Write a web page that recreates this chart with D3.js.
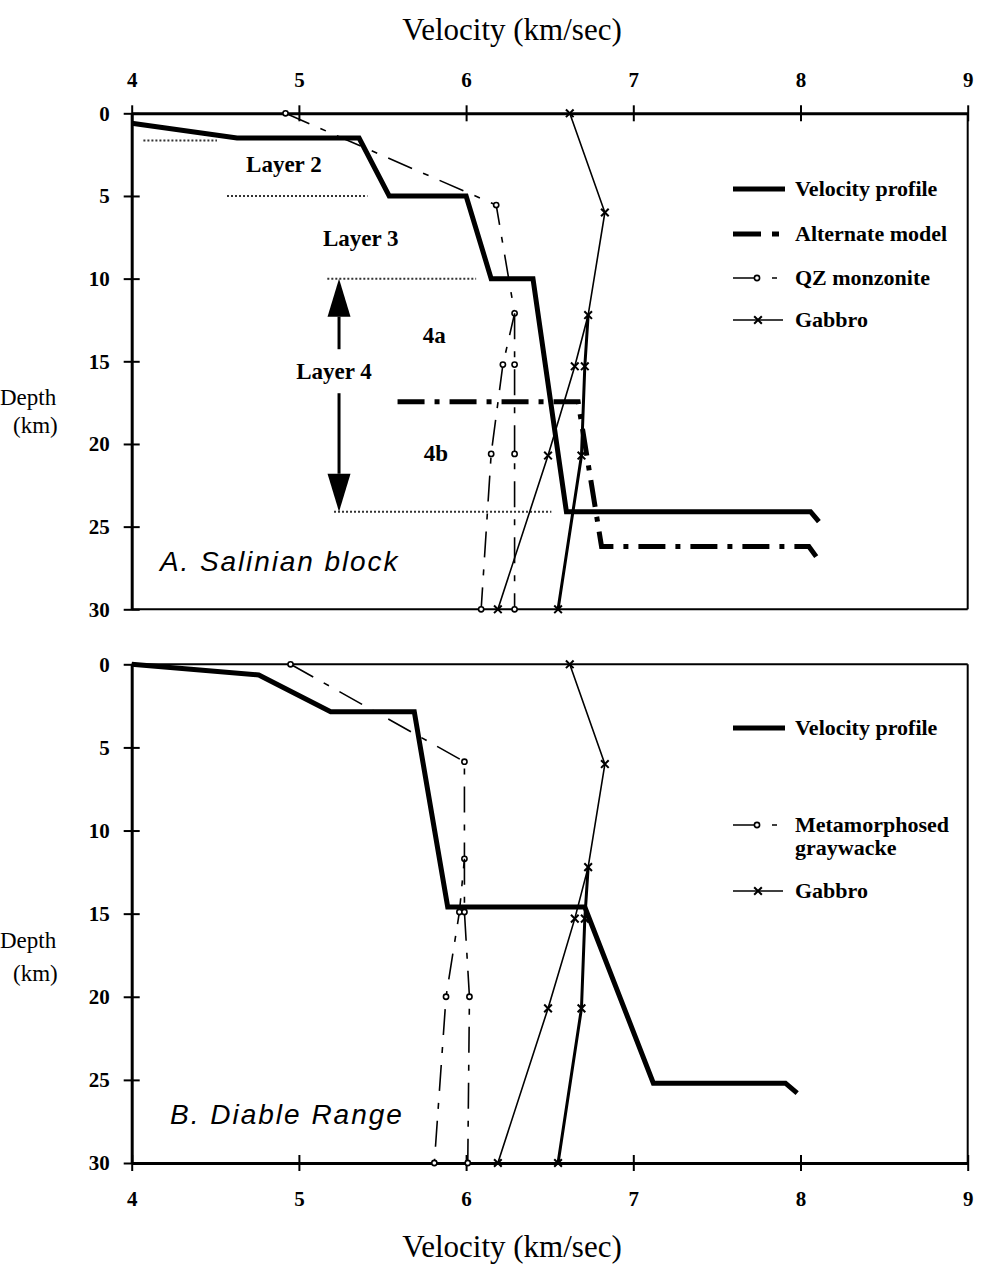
<!DOCTYPE html>
<html>
<head>
<meta charset="utf-8">
<script src="https://cdn.jsdelivr.net/npm/d3@7"></script>
<style>
  body { margin: 0; background: #fff; }
  svg { display: block; }
</style>
</head>
<body>
<svg id="chart" width="991" height="1264"></svg>
<script>
// ---- Data -------------------------------------------------------------
const velocityTicks = [4, 5, 6, 7, 8, 9];
const depthTicks = [0, 5, 10, 15, 20, 25, 30];

// A. Salinian block  [velocity km/s, depth km]
const salinianProfile = [[4.0, 0.6], [4.63, 1.5], [5.36, 1.5], [5.54, 5.0], [6.0, 5.0],
  [6.15, 10], [6.4, 10], [6.6, 24.1], [8.06, 24.1], [8.11, 24.7]];
const salinianAlternate = [[5.59, 17.45], [6.67, 17.45], [6.81, 26.2], [8.05, 26.2], [8.1, 26.9]];
const qzMonzoniteLow = [[4.92, 0], [6.18, 5.55], [6.29, 12.1], [6.22, 15.2], [6.15, 20.6], [6.09, 30]];
const qzMonzoniteHigh = [[6.29, 12.1], [6.29, 15.2], [6.29, 20.6], [6.29, 30]];

// Gabbro laboratory curves (shared by both panels)
const gabbroLow = [[6.62, 0], [6.83, 6.0], [6.73, 12.2], [6.65, 15.3], [6.49, 20.7], [6.19, 30]];
const gabbroHigh = [[6.73, 12.2], [6.71, 15.3], [6.69, 20.7], [6.55, 30]];

// B. Diable Range
const diableProfile = [[4.0, 0], [4.76, 0.64], [5.19, 2.85], [5.69, 2.85], [5.89, 14.6],
  [6.71, 14.6], [7.12, 25.2], [7.91, 25.2], [7.98, 25.8]];
const graywackeLow = [[4.95, 0], [5.99, 5.86], [5.99, 11.7], [5.96, 14.9], [5.88, 20], [5.81, 30]];
const graywackeHigh = [[5.99, 11.7], [5.99, 14.9], [6.02, 20], [6.01, 30]];

// Layer boundaries in panel A: [depth, velocity start, velocity end]
const layerBoundaries = [[1.65, 4.07, 4.51], [5, 4.57, 5.41], [10, 5.17, 6.06], [24.1, 5.21, 6.51]];
// Layer names: [text, velocity, depth]
const layerNames = [["Layer 2", 4.91, 3.07], ["Layer 3", 5.37, 7.56], ["4a", 5.81, 13.4],
  ["Layer 4", 5.21, 15.6], ["4b", 5.82, 20.57]];
// Extent of Layer 4 (velocity position, top depth, bottom depth)
const layer4Span = [5.24, 10, 24.1];

const legendA = ["Velocity profile", "Alternate model", "QZ monzonite", "Gabbro"];
const legendB = ["Velocity profile", ["Metamorphosed", "graywacke"], "Gabbro"];

// ---- Layout -----------------------------------------------------------
const serif = '"Liberation Serif", "Times New Roman", serif';
const sans = '"Liberation Sans", Arial, sans-serif';
const svg = d3.select('#chart');

const x = d3.scaleLinear().domain([4, 9]).range([131.7, 967.7]);
const yA = d3.scaleLinear().domain([0, 30]).range([113.3, 609.3]);
const yB = d3.scaleLinear().domain([0, 30]).range([664.3, 1163]);

const lineGen = y => d3.line().x(d => x(d[0])).y(d => y(d[1]));

function styleAxis(g) {
  g.select('.domain').attr('stroke-width', 3);
  g.selectAll('.tick line').attr('stroke-width', 2);
  g.selectAll('.tick text')
    .attr('font-family', serif).attr('font-weight', 'bold').attr('font-size', 21).attr('fill', '#000');
}

function panelFrame(y, topAxis) {
  const [x0, x1] = x.range();
  const [y0, y1] = y.range();
  // thin borders on the sides without an axis
  const g = svg.append('g').attr('fill', 'none').attr('stroke', '#000').attr('stroke-width', 2);
  g.append('line').attr('x1', x1).attr('x2', x1).attr('y1', y0).attr('y2', y1);
  if (topAxis) g.append('line').attr('x1', x0).attr('x2', x1).attr('y1', y1).attr('y2', y1);
  else g.append('line').attr('x1', x0).attr('x2', x1).attr('y1', y0).attr('y2', y0);

  // velocity axis
  const vAxis = topAxis
    ? d3.axisTop(x).tickValues(velocityTicks).tickSizeInner(8).tickSizeOuter(0).tickPadding(18).tickFormat(d3.format('d'))
    : d3.axisBottom(x).tickValues(velocityTicks).tickSizeInner(8).tickSizeOuter(0).tickPadding(20).tickFormat(d3.format('d'));
  const gv = svg.append('g')
    .attr('transform', `translate(0,${topAxis ? y0 : y1})`)
    .call(vAxis).call(styleAxis);
  gv.selectAll('.tick line').attr('y1', topAxis ? 8 : -8);

  // depth axis
  const gd = svg.append('g')
    .attr('transform', `translate(${x0},0)`)
    .call(d3.axisLeft(y).tickValues(depthTicks).tickSizeInner(8).tickSizeOuter(0).tickPadding(14))
    .call(styleAxis);
  gd.selectAll('.tick line').attr('x1', 8);
}

function series(y, data, opts) {
  svg.append('path').datum(data)
    .attr('d', lineGen(y))
    .attr('fill', 'none').attr('stroke', '#000')
    .attr('stroke-width', opts.width)
    .attr('stroke-linejoin', 'miter')
    .attr('stroke-dasharray', opts.dash || null);
  if (opts.marker) {
    const pts = opts.skipFirst ? data.slice(1) : data;
    markers(y, pts, opts.marker);
  }
}

function markers(y, pts, kind) {
  const g = svg.append('g');
  if (kind === 'circle') {
    g.selectAll('circle').data(pts).join('circle')
      .attr('cx', d => x(d[0])).attr('cy', d => y(d[1])).attr('r', 2.6)
      .attr('fill', '#fff').attr('stroke', '#000').attr('stroke-width', 1.6);
  } else {
    g.selectAll('path').data(pts).join('path')
      .attr('transform', d => `translate(${x(d[0])},${y(d[1])})`)
      .attr('d', d3.symbol(d3.symbolTimes, 40)())
      .attr('fill', 'none').attr('stroke', '#000').attr('stroke-width', 2);
  }
}

const DASH_ROCK = '26,12,6,12';
const DASH_ALT = '27,10,5,10';

// ---- Titles -----------------------------------------------------------
svg.append('text').attr('x', 512).attr('y', 40).attr('text-anchor', 'middle')
  .attr('font-family', serif).attr('font-size', 31).text('Velocity (km/sec)');
svg.append('text').attr('x', 512).attr('y', 1257).attr('text-anchor', 'middle')
  .attr('font-family', serif).attr('font-size', 31).text('Velocity (km/sec)');

function depthLabel(yc, gap) {
  const t = svg.append('text').attr('font-family', serif).attr('font-size', 23);
  t.append('tspan').attr('x', 0).attr('y', yc).text('Depth');
  t.append('tspan').attr('x', 13).attr('y', yc + gap).text('(km)');
}
depthLabel(405, 28);
depthLabel(948, 33);

// ---- Panel A ----------------------------------------------------------
panelFrame(yA, true);

svg.append('g').selectAll('line').data(layerBoundaries).join('line')
  .attr('x1', d => x(d[1])).attr('x2', d => x(d[2]))
  .attr('y1', d => yA(d[0])).attr('y2', d => yA(d[0]))
  .attr('stroke', '#333').attr('stroke-width', 2).attr('stroke-dasharray', '2,2');

svg.append('g').selectAll('text').data(layerNames).join('text')
  .attr('x', d => x(d[1])).attr('y', d => yA(d[2])).attr('dy', '0.35em')
  .attr('text-anchor', 'middle')
  .attr('font-family', serif).attr('font-weight', 'bold').attr('font-size', 23)
  .text(d => d[0]);

// Layer 4 double arrow, broken around its label
(function () {
  const ax = x(layer4Span[0]);
  const top = yA(layer4Span[1]);
  const bot = yA(layer4Span[2]);
  const head = 38, half = 11.5;
  const labelY = yA(layerNames[3][2]);
  const g = svg.append('g');
  g.append('path').attr('d', `M${ax},${top}L${ax - half},${top + head}L${ax + half},${top + head}Z`);
  g.append('path').attr('d', `M${ax},${bot}L${ax - half},${bot - head}L${ax + half},${bot - head}Z`);
  g.append('line').attr('x1', ax).attr('x2', ax).attr('y1', top + head).attr('y2', labelY - 22)
    .attr('stroke', '#000').attr('stroke-width', 3);
  g.append('line').attr('x1', ax).attr('x2', ax).attr('y1', labelY + 22).attr('y2', bot - head)
    .attr('stroke', '#000').attr('stroke-width', 3);
})();

series(yA, qzMonzoniteLow, { width: 1.6, dash: DASH_ROCK, marker: 'circle' });
series(yA, qzMonzoniteHigh, { width: 1.6, dash: DASH_ROCK, marker: 'circle', skipFirst: true });
series(yA, gabbroLow, { width: 1.6, marker: 'x' });
series(yA, gabbroHigh, { width: 3, marker: 'x', skipFirst: true });
series(yA, salinianAlternate, { width: 5, dash: DASH_ALT });
series(yA, salinianProfile, { width: 5 });

svg.append('text').attr('x', 160).attr('y', 571)
  .attr('font-family', sans).attr('font-style', 'italic').attr('font-size', 28)
  .attr('letter-spacing', 1.9).text('A. Salinian block');

// ---- Panel B ----------------------------------------------------------
panelFrame(yB, false);

series(yB, graywackeLow, { width: 1.6, dash: DASH_ROCK, marker: 'circle' });
series(yB, graywackeHigh, { width: 1.6, dash: DASH_ROCK, marker: 'circle', skipFirst: true });
series(yB, gabbroLow, { width: 1.6, marker: 'x' });
series(yB, gabbroHigh, { width: 3, marker: 'x', skipFirst: true });
series(yB, diableProfile, { width: 5 });

svg.append('text').attr('x', 170).attr('y', 1124)
  .attr('font-family', sans).attr('font-style', 'italic').attr('font-size', 28)
  .attr('letter-spacing', 2).text('B. Diable Range');

// ---- Legends ----------------------------------------------------------
function legendSample(kind, yc) {
  const g = svg.append('g').attr('stroke', '#000').attr('fill', 'none');
  const lx0 = 733, lx1 = 785;
  if (kind === 'profile') {
    g.append('line').attr('x1', lx0).attr('x2', lx1).attr('y1', yc).attr('y2', yc).attr('stroke-width', 5);
  } else if (kind === 'alternate') {
    g.append('line').attr('x1', lx0).attr('x2', lx1).attr('y1', yc).attr('y2', yc)
      .attr('stroke-width', 5).attr('stroke-dasharray', '28,11,7,20');
  } else if (kind === 'rock') {
    g.append('line').attr('x1', lx0).attr('x2', lx1).attr('y1', yc).attr('y2', yc)
      .attr('stroke-width', 1.6).attr('stroke-dasharray', '24,15,5,20');
    g.append('circle').attr('cx', 757).attr('cy', yc).attr('r', 2.6).attr('fill', '#fff').attr('stroke-width', 1.6);
  } else {
    g.append('line').attr('x1', lx0).attr('x2', 783).attr('y1', yc).attr('y2', yc).attr('stroke-width', 1.6);
    g.append('path').attr('transform', `translate(758,${yc})`)
      .attr('d', d3.symbol(d3.symbolTimes, 40)()).attr('stroke-width', 2);
  }
}

function legendText(label, yc) {
  const t = svg.append('text').attr('font-family', serif).attr('font-weight', 'bold').attr('font-size', 22);
  const lines = Array.isArray(label) ? label : [label];
  lines.forEach((s, i) => t.append('tspan').attr('x', 795).attr('y', yc + 7 + i * 23).text(s));
}

const kindsA = ['profile', 'alternate', 'rock', 'gabbro'];
const rowsA = [189, 234, 278, 320];
legendA.forEach((lab, i) => { legendSample(kindsA[i], rowsA[i]); legendText(lab, rowsA[i]); });

const kindsB = ['profile', 'rock', 'gabbro'];
const rowsB = [728, 825, 891];
legendB.forEach((lab, i) => { legendSample(kindsB[i], rowsB[i]); legendText(lab, rowsB[i]); });
</script>
</body>
</html>
